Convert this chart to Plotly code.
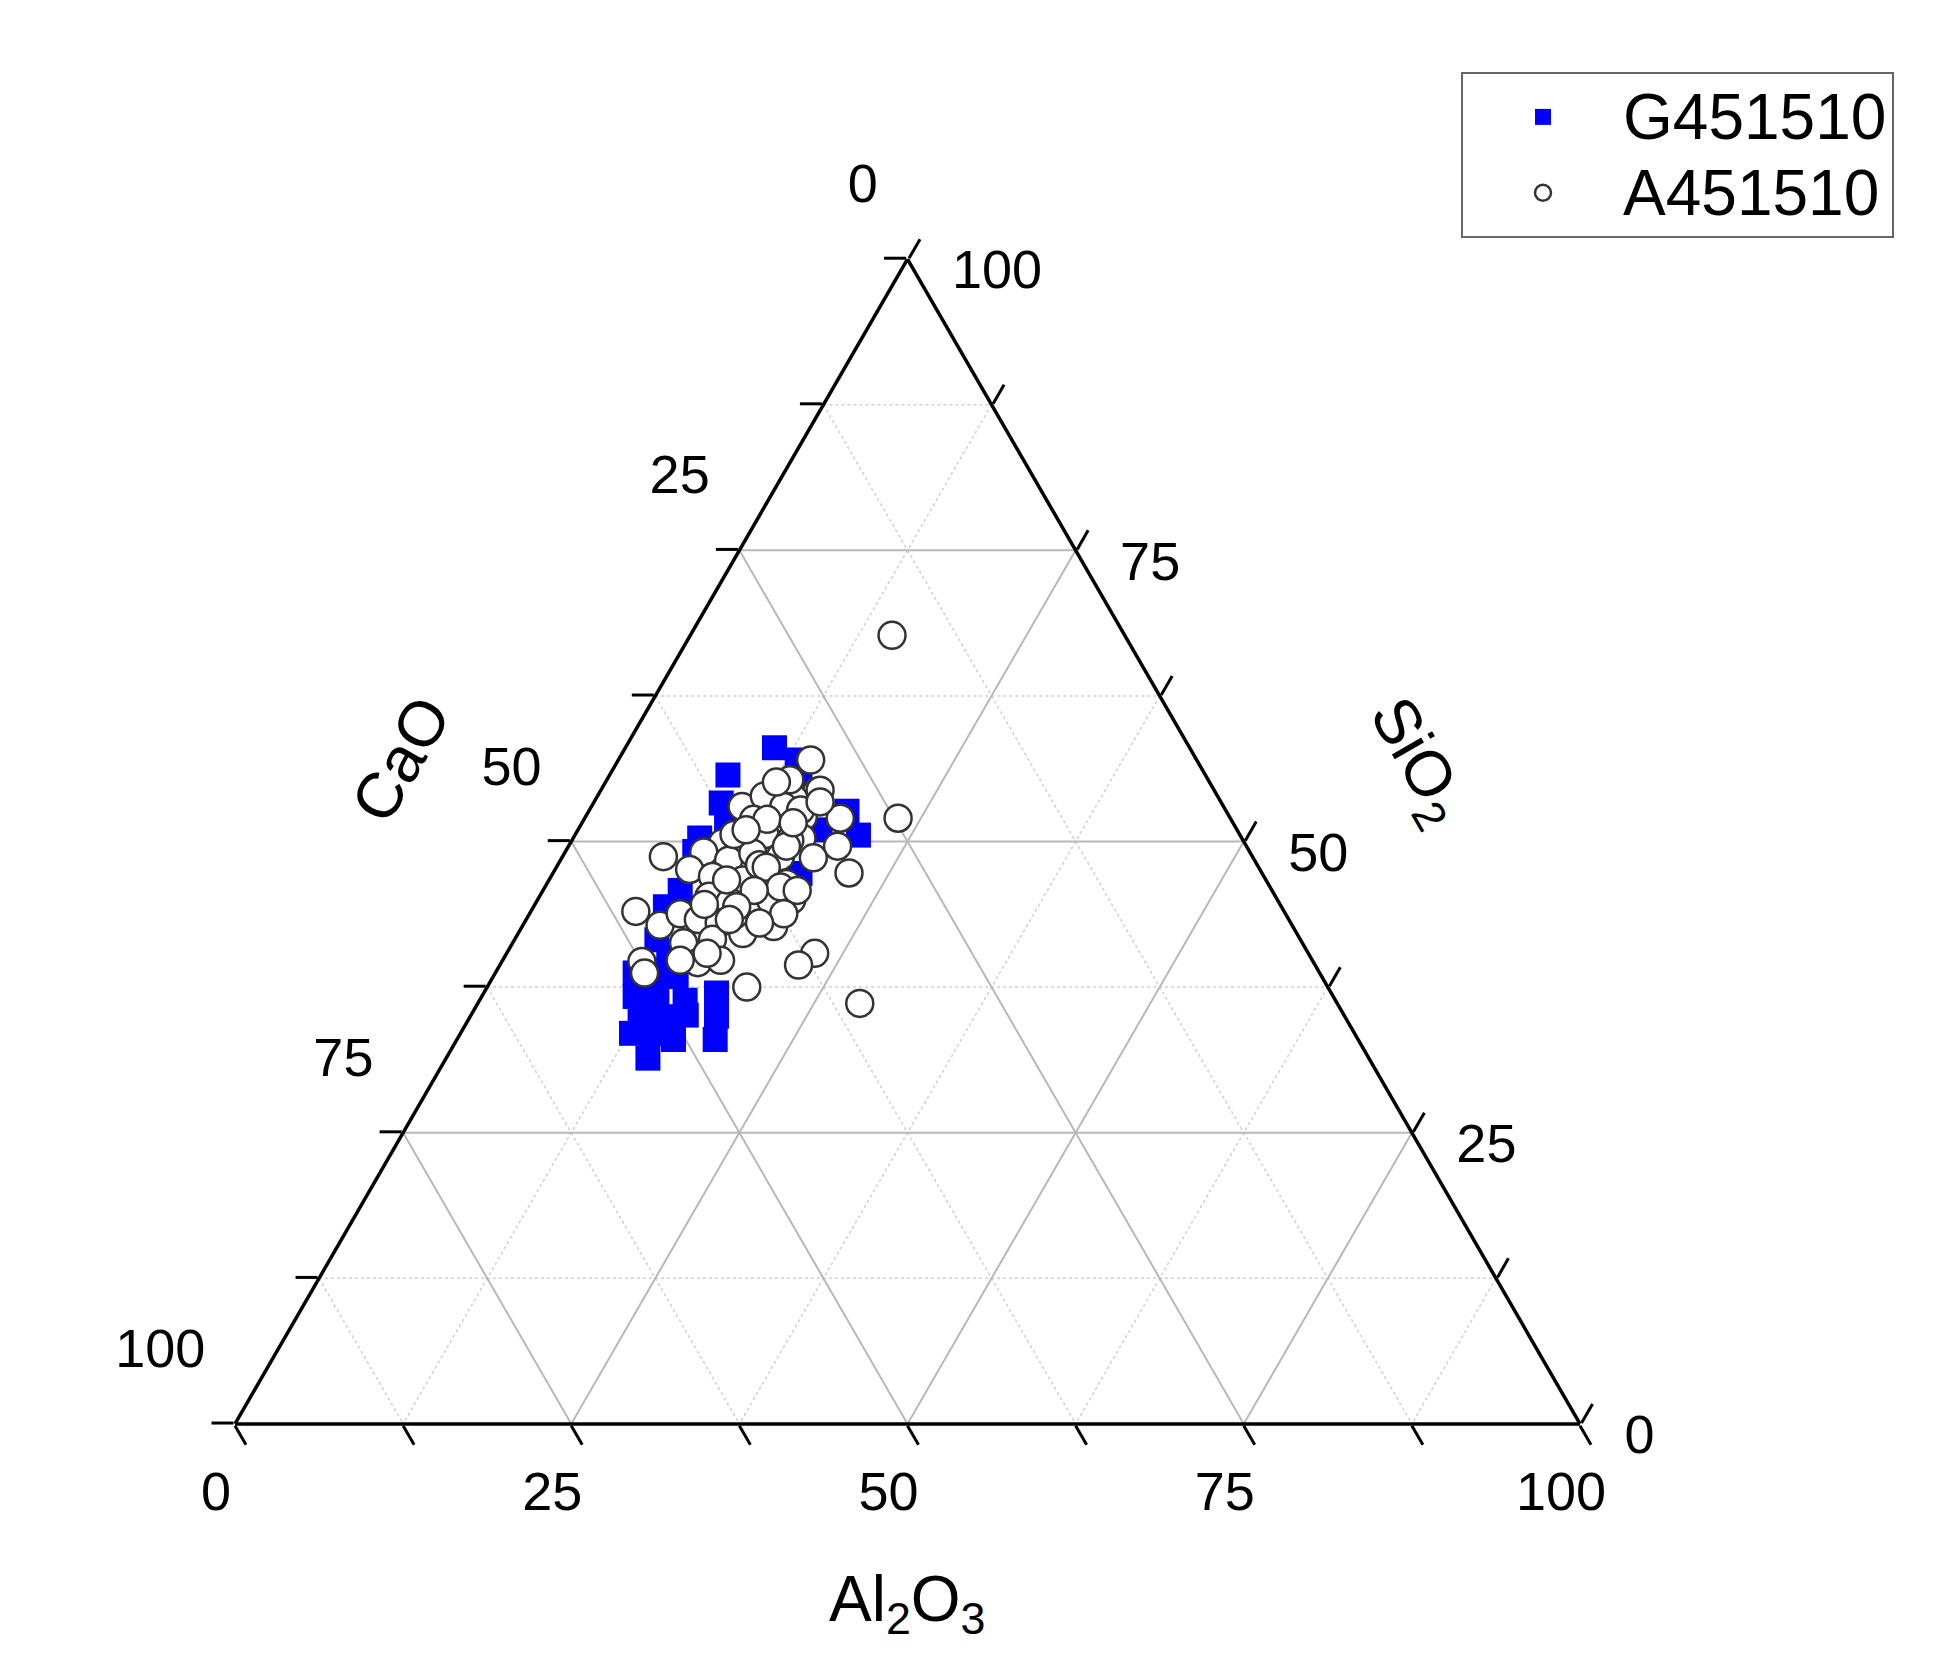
import plotly.graph_objects as go

# Ternary data: SiO2 (top vertex), CaO (bottom-left vertex), Al2O3 (bottom-right vertex)
g_sio2 = [58.1, 57.0, 55.0, 55.7, 53.3, 51.9, 50.3, 49.1, 52.6, 50.6, 51.0, 47.3, 45.8, 44.4, 41.6, 38.7,
          39.0, 38.4, 36.7, 37.0, 36.4, 35.1, 35.3, 35.0, 33.5, 33.5, 33.0, 31.4, 37.0, 35.0, 33.0, 40.1]
g_cao = [30.9, 29.7, 30.5, 35.5, 37.2, 37.5, 40.3, 41.2, 28.2, 28.4, 31.0, 34.4, 44.0, 45.8, 47.9, 50.9,
         49.2, 48.0, 51.9, 50.2, 48.4, 48.9, 52.3, 50.7, 53.7, 52.3, 50.9, 53.6, 45.7, 46.7, 47.8, 47.7]
g_al2o3 = [11.1, 13.3, 14.5, 8.8, 9.5, 10.6, 9.4, 9.6, 19.2, 21.1, 18.0, 18.4, 10.2, 9.8, 10.6, 10.4,
           11.9, 13.6, 11.4, 12.9, 15.3, 16.0, 12.5, 14.4, 12.7, 14.2, 16.1, 15.0, 17.3, 18.3, 19.2, 12.2]

a_sio2 = [57.0, 54.7, 54.3, 53.7, 53.0, 53.9, 53.0, 52.1, 52.0, 52.0, 51.9, 51.3, 50.6, 50.3, 49.9, 49.1,
          48.4, 49.0, 48.7, 49.6, 48.6, 48.7, 47.6, 47.0, 46.7, 47.0, 46.4, 47.3, 45.3, 44.8, 44.6, 45.0,
          44.0, 42.8, 43.8, 43.3, 43.0, 42.7, 42.7, 41.3, 41.6, 42.1, 39.6, 39.7, 38.7, 40.4, 39.4, 37.5,
          36.1, 67.7, 50.6, 55.3, 48.0, 43.7, 44.6, 50.1, 45.0, 39.8, 52.7, 54.4,
          55.1, 53.4, 51.9, 49.6, 51.0, 47.8, 46.7, 46.1, 45.8, 45.8, 44.4, 43.8, 43.3, 43.0, 40.4, 39.8, 51.6]
a_cao = [28.7, 32.1, 29.6, 31.6, 35.8, 33.7, 32.7, 31.7, 29.0, 24.7, 35.5, 34.4, 35.3, 32.7, 38.8, 40.6,
         39.1, 37.0, 35.1, 30.4, 32.7, 43.8, 42.4, 41.0, 38.9, 37.0, 35.8, 30.7, 42.1, 40.8, 38.6, 36.1,
         48.2, 47.0, 45.0, 43.9, 42.5, 40.6, 38.6, 46.0, 43.7, 41.2, 45.8, 49.9, 50.2, 36.7, 38.4, 43.2,
         35.5, 17.3, 37.6, 31.1, 37.0, 41.0, 42.8, 33.7, 37.7, 44.0, 31.6, 29.3,
         32.2, 29.8, 34.5, 34.2, 36.5, 36.6, 40.1, 36.4, 38.5, 35.3, 40.5, 37.3, 41.6, 39.5, 44.7, 47.0, 32.7]
a_al2o3 = [14.3, 13.2, 16.1, 14.7, 11.2, 12.4, 14.3, 16.2, 19.0, 23.3, 12.6, 14.3, 14.1, 17.0, 11.3, 10.3,
           12.5, 14.0, 16.2, 20.0, 18.7, 7.5, 10.0, 12.0, 14.4, 16.0, 17.8, 22.0, 12.6, 14.4, 16.8, 18.9,
           7.8, 10.2, 11.2, 12.8, 14.5, 16.7, 18.7, 12.7, 14.7, 16.7, 14.6, 10.4, 11.1, 22.9, 22.2, 19.3,
           28.4, 15.0, 11.8, 13.6, 15.0, 15.3, 12.6, 16.2, 17.3, 16.2, 15.7, 16.3,
           12.7, 16.8, 13.6, 16.2, 12.5, 15.6, 13.2, 17.5, 15.7, 18.9, 15.1, 18.9, 15.1, 17.5, 14.9, 13.2, 15.7]

series_names = ["G451510", "A451510"]

tick_vals = [0, 12.5, 25, 37.5, 50, 62.5, 75, 87.5, 100]
major_vals = [25, 50, 75]
minor_vals = [12.5, 37.5, 62.5, 87.5]
# labels follow the reference's clockwise convention: shown value = 100 - plotly axis value
label_vals = ["100", "", "75", "", "50", "", "25", "", "0"]

NB = "\u00a0"
# padding only (values unchanged) so labels sit where the reference puts them
a_text = [t + "<br>" + NB + "<br>" + NB if t else "" for t in label_vals]
b_text = [t + NB * 4 if t else "" for t in label_vals]
c_text = [NB + "<br>" + NB + "\u2009" + t if t else "" for t in label_vals]

FONT = "Liberation Sans, Arial, sans-serif"
W, H = 1936, 1665
OFF = 8  # page body margin

fig = go.Figure()


def grid_lines(vals, color, width, dash):
    for v in vals:
        for aa, bb, cc in (([v, v], [100 - v, 0], [0, 100 - v]),
                           ([100 - v, 0], [v, v], [0, 100 - v]),
                           ([100 - v, 0], [0, 100 - v], [v, v])):
            fig.add_trace(go.Scatterternary(a=aa, b=bb, c=cc, mode="lines",
                                            line=dict(color=color, width=width, dash=dash),
                                            showlegend=False, hoverinfo="skip"))


grid_lines(minor_vals, "#cfcfcf", 1.5, "dot")
grid_lines(major_vals, "#b8b8b8", 2, "solid")


def legend_name(s):
    return "<span style='font-size:64px'>" + s + "</span>"


fig.add_trace(go.Scatterternary(a=g_sio2, b=g_cao, c=g_al2o3, mode="markers",
                                name=legend_name(series_names[0]),
                                marker=dict(symbol="square", size=25, color="#0000ff",
                                            line=dict(width=0))))
fig.add_trace(go.Scatterternary(a=a_sio2, b=a_cao, c=a_al2o3, mode="markers",
                                name=legend_name(series_names[1]),
                                marker=dict(symbol="circle", size=27, color="white",
                                            line=dict(width=2.5, color="#333333"))))


def axis(texts):
    return dict(tickmode="array", tickvals=tick_vals, ticktext=texts, ticks="outside",
                ticklen=22, tickwidth=2.5, tickcolor="black", linecolor="black", linewidth=3.5,
                showgrid=False, showline=True, min=0,
                tickfont=dict(size=54, color="black", family=FONT), title=dict(text=""))


def px(x):
    return (x - OFF) / W


def py(y):
    return 1 - (y - OFF) / H


title_font = dict(size=64, family=FONT, color="black")

fig.update_layout(
    width=W, height=H,
    margin=dict(l=0, r=0, t=0, b=0, autoexpand=False),
    paper_bgcolor="white",
    font=dict(family=FONT, color="black"),
    ternary=dict(sum=100, bgcolor="white",
                 domain=dict(x=[px(235), px(1580)], y=[py(1424), py(259)]),
                 aaxis=axis(a_text), baxis=axis(b_text), caxis=axis(c_text)),
    showlegend=True,
    legend=dict(x=px(1461), y=py(72), xanchor="left", yanchor="top", bgcolor="white",
                bordercolor="#666666", borderwidth=2, font=dict(size=56, family=FONT, color="black"),
                itemwidth=150, tracegroupgap=0),
    annotations=[
        dict(text="CaO", x=px(401), y=py(759), xref="paper", yref="paper", showarrow=False,
             xanchor="center", yanchor="middle", textangle=-60, font=title_font),
        dict(text="SiO<sub>2</sub>", x=px(1417), y=py(762), xref="paper", yref="paper",
             showarrow=False, xanchor="center", yanchor="middle", textangle=60, font=title_font),
        dict(text="Al<sub>2</sub>O<sub>3</sub>", x=px(907), y=py(1603), xref="paper", yref="paper",
             showarrow=False, xanchor="center", yanchor="middle", font=title_font),
    ],
)

fig.write_html("out.html")
